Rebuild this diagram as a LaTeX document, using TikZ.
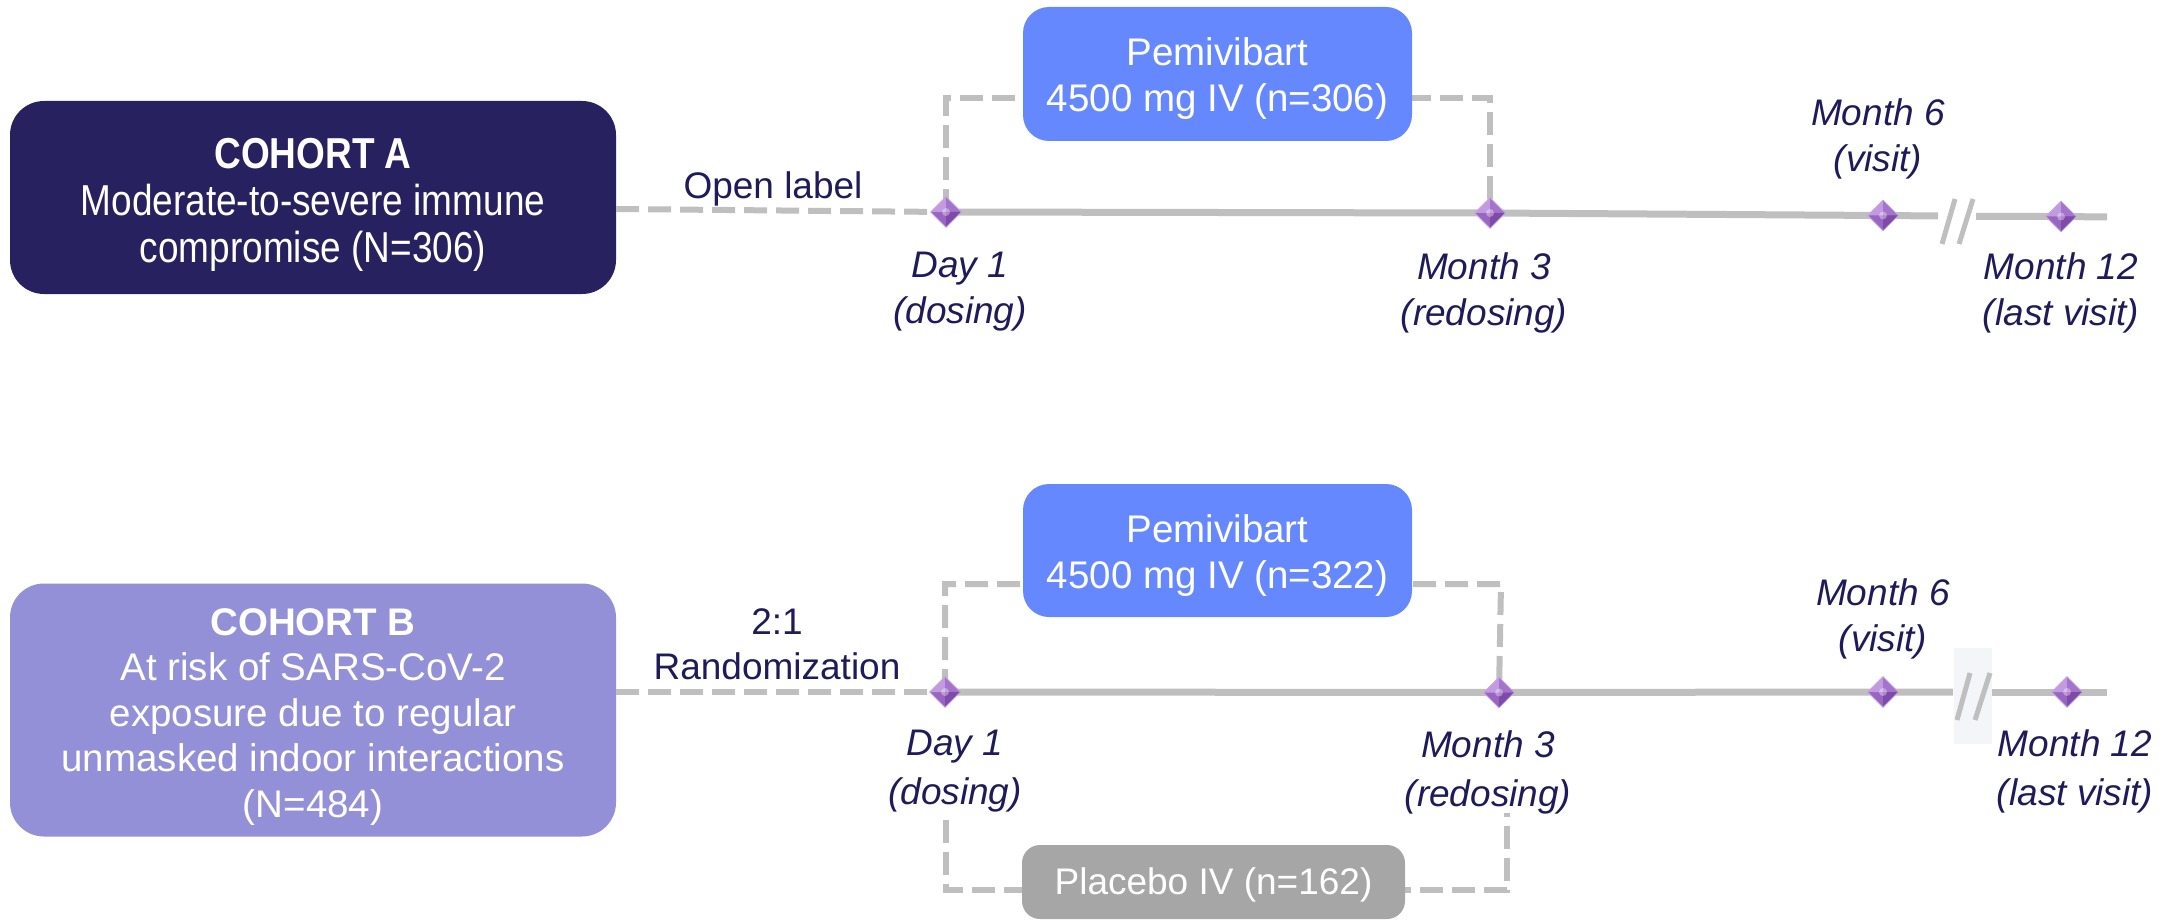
\documentclass[tikz,border=0pt]{standalone}
\usepackage{fontspec}
\setmainfont{Liberation Sans}
\usetikzlibrary{shapes.geometric}
\definecolor{navyA}{HTML}{272160}
\definecolor{lavB}{HTML}{9490D8}
\definecolor{pemi}{HTML}{6688FF}
\definecolor{plac}{HTML}{A6A6A6}
\definecolor{lgray}{HTML}{BFBFBF}
\definecolor{txt}{HTML}{1F1B5B}
\definecolor{brkbg}{HTML}{F4F5F8}
\definecolor{gemNW}{HTML}{C29ADF}
\definecolor{gemNE}{HTML}{A474CC}
\definecolor{gemSW}{HTML}{9866C2}
\definecolor{gemSE}{HTML}{7E4BA8}
\definecolor{gemEdge}{HTML}{C9A8E3}
\begin{document}
\begin{tikzpicture}[x=1pt,y=-1pt,
  every node/.style={font=\fontsize{37}{45}\selectfont},
  cohortbox/.style={rounded corners=34pt, inner sep=0pt},
  armbox/.style={rounded corners=26pt, inner sep=0pt, fill=pemi},
  boxtext/.style={text=white, align=center, inner sep=0pt},
  dashline/.style={draw=lgray, line width=6pt, dash pattern=on 23pt off 9pt},
  tline/.style={draw=lgray, line width=7pt},
  brk/.style={draw=lgray, line width=5pt},
  lbl/.style={text=txt, align=center, font=\fontsize{37}{46}\selectfont\itshape},
  lblB/.style={text=txt, align=center, font=\fontsize{37}{49}\selectfont\itshape},
  plainlbl/.style={text=txt, align=center},
  gem/.style={diamond, minimum width=31pt, minimum height=31pt, inner sep=0pt,
    fill=gemSW, draw=gemEdge, line width=0.8pt,
    path picture={
      \fill[gemNW] (path picture bounding box.center) -- (path picture bounding box.north) -- (path picture bounding box.west) -- cycle;
      \fill[gemNE] (path picture bounding box.center) -- (path picture bounding box.north) -- (path picture bounding box.east) -- cycle;
      \fill[gemSE] (path picture bounding box.center) -- (path picture bounding box.south) -- (path picture bounding box.east) -- cycle;
      \fill[white, opacity=0.35] (path picture bounding box.center) circle (4pt);
    }}
]
\useasboundingbox (0,0) rectangle (2176,920);

% ---------- coordinates ----------
\coordinate (tA) at (0,98);
\coordinate (tB) at (0,584);
\coordinate (bB) at (0,890);
\coordinate (brkAl) at (1938,216);
\coordinate (brkAr) at (1976,216.5);
\coordinate (endA) at (2107,217);
\coordinate (brkBl) at (1953,692);
\coordinate (brkBr) at (1992,692);
\coordinate (endB) at (2107,692);
\coordinate (bBl) at (946,820);
\coordinate (bBr) at (1507,813);
\coordinate (tBr) at (1501,584);

\path (946,212) coordinate (pA1) (1490,213) coordinate (pA3) (1883,215.5) coordinate (pA6) (2061,216.5) coordinate (pA12);
\path (945,692) coordinate (pB1) (1499,692.5) coordinate (pB3) (1883,692) coordinate (pB6) (2067,692) coordinate (pB12);

% ---------- Cohort A ----------
\node[cohortbox, fill=navyA, minimum width=606pt, minimum height=193pt] (cA) at (313,197.5) {};
\node[boxtext, font=\fontsize{37}{40}\selectfont, yscale=1.17, transform shape] (cAt) at (313,205)
  {\textbf{COHORT A}\\Moderate-to-severe immune\\compromise (N=306)};
\draw[dashline] (cA.east |- 0,209) -- (pA1);
\node[plainlbl] (olab) at (773,189) {Open label};
\draw[dashline] (pA1) -- (pA1 |- tA) -- (pA3 |- tA) -- (pA3);
\draw[tline] (pA1) -- (pA3) -- (pA6) -- (brkAl);
\draw[tline] (brkAr) -- (pA12) -- (endA);
\draw[brk] (1955,199) -- (1942,244);
\draw[brk] (1973,199) -- (1959,244);
\node[armbox, minimum width=389pt, minimum height=134pt] (pemA) at (1217.5,74) {};
\node[boxtext, font=\fontsize{38.5}{46}\selectfont] (pemAt) at (1217.5,79) {Pemivibart\\4500 mg IV (n=306)};
\node[gem] (dA1) at (pA1) {};
\node[gem] (dA3) at (pA3) {};
\node[gem] (dA6) at (pA6) {};
\node[gem] (dA12) at (pA12) {};
\node[lbl] (lA1) at (960,292) {Day 1\\(dosing)};
\node[lbl] (lA3) at (1484,293) {Month 3\\(redosing)};
\node[lbl] (lA6) at (1878,139) {Month 6\\(visit)};
\node[lbl] (lA12) at (2061,293) {Month 12\\(last visit)};

% ---------- Cohort B ----------
\node[cohortbox, fill=lavB, minimum width=606pt, minimum height=253pt] (cB) at (313,710) {};
\node[boxtext, font=\fontsize{38.5}{45.5}\selectfont] (cBt) at (313,717)
  {\textbf{COHORT B}\\At risk of SARS-CoV-2\\exposure due to regular\\unmasked indoor interactions\\(N=484)};
\draw[dashline] (cB.east |- pB1) -- (pB1);
\node[plainlbl] (rlab) at (777,644) {2:1\\Randomization};
\draw[dashline] (pB1) -- (pB1 |- tB) -- (tBr) -- (pB3);
\draw[dashline] (bBl) -- (bBl |- bB) -- (bBr |- bB) -- (bBr);
\draw[tline] (pB1) -- (pB3) -- (pB6) -- (brkBl);
\fill[brkbg] (1954,648) rectangle (1992,744);
\draw[tline] (brkBr) -- (pB12) -- (endB);
\draw[brk] (1970,673) -- (1957,720);
\draw[brk] (1990,673) -- (1975,720);
\node[armbox, minimum width=389pt, minimum height=133pt] (pemB) at (1217.5,550.5) {};
\node[boxtext, font=\fontsize{38.5}{46}\selectfont] (pemBt) at (1217.5,555.5) {Pemivibart\\4500 mg IV (n=322)};
\node[armbox, fill=plac, rounded corners=18pt, minimum width=383pt, minimum height=74pt] (plB) at (1213.5,882) {};
\node[boxtext] (plBt) at (1213.5,885) {Placebo IV (n=162)};
\node[gem] (dB1) at (pB1) {};
\node[gem] (dB3) at (pB3) {};
\node[gem] (dB6) at (pB6) {};
\node[gem] (dB12) at (pB12) {};
\node[lblB] (lB1) at (955,771) {Day 1\\(dosing)};
\node[lblB] (lB3) at (1488,772) {Month 3\\(redosing)};
\node[lbl] (lB6) at (1883,619) {Month 6\\(visit)};
\node[lblB] (lB12) at (2075,771) {Month 12\\(last visit)};
\end{tikzpicture}
\end{document}
